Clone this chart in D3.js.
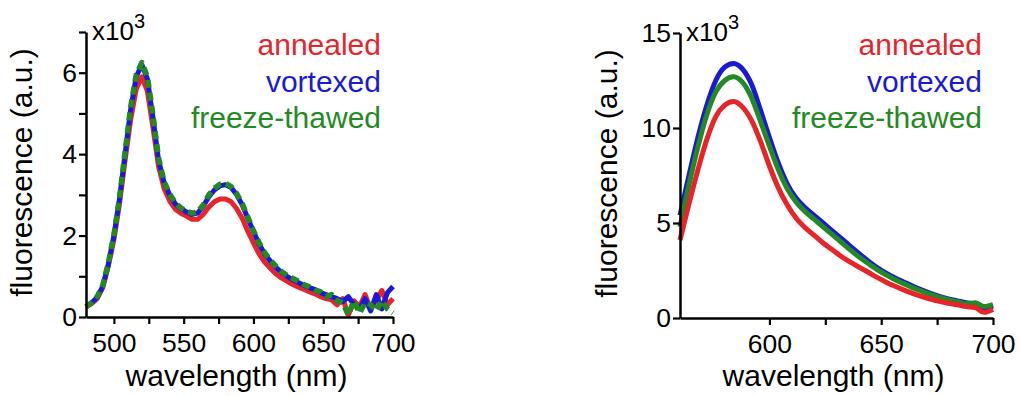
<!DOCTYPE html>
<html>
<head>
<meta charset="utf-8">
<script src="https://cdn.jsdelivr.net/npm/d3@7/dist/d3.min.js"></script>
<style>
  html, body { margin: 0; padding: 0; background: #fff; }
  svg { display: block; font-family: "Liberation Sans", Arial, Helvetica, sans-serif; }
</style>
</head>
<body>
<svg id="fig" width="1019" height="396"></svg>
<script>
// ---- Panel A: full emission spectra (480–700 nm), values in units of 10^3 ----
const wavelengthsA = d3.range(480, 701, 4);
const annealedA = [0.25,0.33,0.45,0.72,1.25,1.9,2.78,3.85,4.85,5.6,5.9,5.55,4.65,3.7,3.15,2.85,2.65,2.55,2.48,2.4,
  2.4,2.52,2.7,2.83,2.9,2.9,2.83,2.66,2.42,2.1,1.82,1.55,1.35,1.2,1.06,0.96,0.88,0.8,0.74,0.68,
  0.62,0.57,0.5,0.45,0.42,0.3,0.45,0.05,0.4,0.25,0.55,0.2,0.4,0.65,0.3,0.45];
const vortexedA = [0.25,0.35,0.48,0.75,1.3,2.0,2.9,4.0,5.1,5.9,6.2,5.85,4.9,3.85,3.3,3.0,2.78,2.66,2.58,2.52,
  2.55,2.72,2.95,3.12,3.22,3.25,3.18,3.0,2.75,2.42,2.1,1.8,1.55,1.38,1.22,1.1,1.0,0.92,0.85,0.78,
  0.72,0.68,0.6,0.55,0.5,0.45,0.38,0.5,0.3,0.2,0.45,0.15,0.55,0.2,0.6,0.75];
const freezeThawedA = [0.25,0.35,0.5,0.78,1.32,2.02,2.92,4.05,5.15,5.95,6.25,5.9,4.95,3.9,3.32,3.02,2.8,2.68,2.6,2.55,
  2.58,2.75,3.0,3.16,3.26,3.28,3.2,3.03,2.78,2.45,2.12,1.83,1.58,1.4,1.25,1.12,1.02,0.95,0.88,0.8,
  0.74,0.66,0.62,0.5,0.55,0.4,0.35,0.05,0.4,0.1,0.35,0.3,0.15,0.4,0.2,0.1];

// ---- Panel B: emission spectra (560–700 nm), values in units of 10^3 ----
const wavelengthsB = d3.range(560, 701, 4);
const annealedB = [4.1,6.0,7.8,9.4,10.6,11.2,11.4,11.1,10.4,9.3,8.0,6.85,5.95,5.25,4.75,4.35,3.95,3.6,3.25,2.95,
  2.68,2.42,2.15,1.9,1.68,1.48,1.3,1.14,1.0,0.88,0.78,0.7,0.6,0.55,0.3,0.45];
const vortexedB = [5.4,7.5,9.5,11.2,12.5,13.2,13.4,13.1,12.3,10.95,9.5,8.15,7.05,6.3,5.8,5.4,5.0,4.6,4.2,3.8,
  3.4,3.02,2.67,2.37,2.12,1.9,1.68,1.48,1.3,1.14,1.0,0.9,0.8,0.72,0.5,0.62];
const freezeThawedB = [4.8,7.0,9.0,10.7,11.9,12.5,12.7,12.4,11.6,10.35,9.05,7.8,6.8,6.1,5.6,5.2,4.8,4.4,4.0,3.6,
  3.22,2.88,2.56,2.28,2.03,1.81,1.6,1.42,1.25,1.1,0.96,0.86,0.75,0.8,0.6,0.7];

const seriesNames = ["annealed", "vortexed", "freeze-thawed"];
const seriesColors = ["#e8232a", "#1a1ad6", "#238a23"];

const xTicksA = [500, 525, 550, 575, 600, 625, 650, 675, 700];
const yTicksA = [0, 1, 2, 3, 4, 5, 6, 7];
const xTicksB = [600, 625, 650, 675, 700];
const yTicksB = [0, 5, 10, 15];

const svg = d3.select("#fig");
const TICK_FONT = 26.5;
const TITLE_FONT = 30;
const LEGEND_FONT = 30;

function drawPanel(opt) {
  const g = svg.append("g");
  const x = d3.scaleLinear().domain(opt.xDomain).range([opt.left, opt.right]);
  const y = d3.scaleLinear().domain(opt.yDomain).range([opt.bottom, opt.top]);

  // spectra
  const line = d3.line()
    .curve(opt.curve)
    .x((d, i) => x(opt.wl[i]))
    .y(d => y(d));
  opt.order.forEach(s => {
    const dash = opt.dashed && opt.dashed[s];
    g.append("path")
      .datum(opt.series[s])
      .attr("fill", "none")
      .attr("stroke", seriesColors[s])
      .attr("stroke-width", dash ? 5.5 : 5)
      .attr("stroke-linejoin", "round")
      .attr("stroke-dasharray", dash || null)
      .attr("d", line);
  });

  // axes
  const xAxis = d3.axisBottom(x)
    .tickValues(opt.xTicks)
    .tickSize(7)
    .tickSizeOuter(0)
    .tickPadding(9)
    .tickFormat(d => opt.xLabelled(d) ? d : "");
  const yAxis = d3.axisLeft(y)
    .tickValues(opt.yTicks)
    .tickSize(7)
    .tickSizeOuter(0)
    .tickPadding(2)
    .tickFormat(d => opt.yLabelled(d) ? d : "");

  const gx = g.append("g").attr("transform", `translate(0,${opt.bottom})`).call(xAxis);
  const gy = g.append("g").attr("transform", `translate(${opt.left},0)`).call(yAxis);
  [gx, gy].forEach(a => {
    a.select(".domain").attr("stroke", "#000").attr("stroke-width", 2.5);
    a.selectAll(".tick line").attr("stroke", "#000").attr("stroke-width", 2.2);
    a.selectAll(".tick text").attr("fill", "#000").style("font-size", TICK_FONT + "px")
      .style("font-family", '"Liberation Sans", Arial, sans-serif');
  });

  // multiplier
  const m = g.append("text")
    .attr("x", opt.left + 6)
    .attr("y", opt.top + 8)
    .style("font-size", "26px")
    .attr("fill", "#000");
  m.append("tspan").text("x10");
  m.append("tspan").attr("dy", -12).style("font-size", "20px").text("3");

  // axis titles
  g.append("text")
    .attr("x", (opt.left + opt.right) / 2 - 3)
    .attr("y", 386)
    .attr("text-anchor", "middle")
    .style("font-size", TITLE_FONT + "px")
    .attr("fill", "#000")
    .text("wavelength (nm)");
  g.append("text")
    .attr("transform", `translate(${opt.yTitleX},${(opt.top + opt.bottom) / 2 - 2}) rotate(-90)`)
    .attr("text-anchor", "middle")
    .style("font-size", TITLE_FONT + "px")
    .attr("fill", "#000")
    .text("fluorescence (a.u.)");

  // legend
  seriesNames.forEach((name, i) => {
    g.append("text")
      .attr("x", opt.legendX)
      .attr("y", 55 + i * 36.5)
      .attr("text-anchor", "end")
      .style("font-size", LEGEND_FONT + "px")
      .attr("fill", seriesColors[i])
      .text(name);
  });
}

drawPanel({
  wl: wavelengthsA,
  series: [annealedA, vortexedA, freezeThawedA],
  order: [0, 1, 2],
  dashed: { 2: "8,5" },
  curve: d3.curveLinear,
  xDomain: [480, 700], yDomain: [0, 7],
  left: 86, right: 393, top: 32, bottom: 317,
  xTicks: xTicksA, yTicks: yTicksA,
  xLabelled: d => d % 50 === 0,
  yLabelled: d => d % 2 === 0,
  yTitleX: 32,
  legendX: 381
});

drawPanel({
  wl: wavelengthsB,
  series: [annealedB, vortexedB, freezeThawedB],
  order: [1, 2, 0],
  curve: d3.curveMonotoneX,
  xDomain: [560, 700], yDomain: [0, 15],
  left: 680, right: 993, top: 33, bottom: 318,
  xTicks: xTicksB, yTicks: yTicksB,
  xLabelled: d => d % 50 === 0,
  yLabelled: d => true,
  yTitleX: 617,
  legendX: 982
});
</script>
</body>
</html>
